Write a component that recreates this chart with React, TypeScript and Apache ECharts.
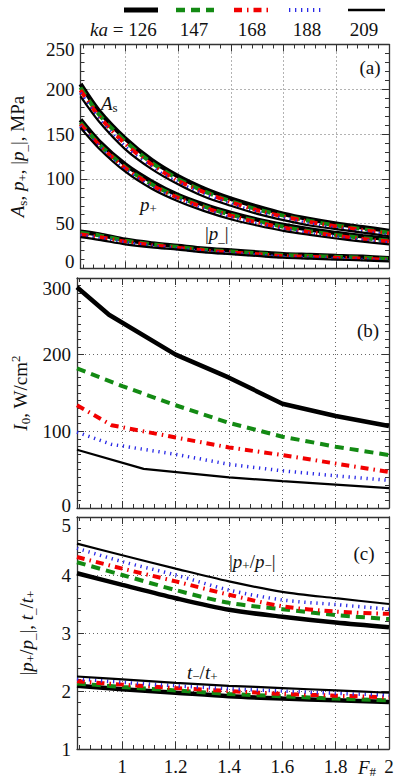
import React, { useEffect, useRef } from 'react';
import * as echarts from 'echarts';

const FONT = "'Liberation Serif', 'Times New Roman', serif";
const KA = ['126', '147', '168', '188', '209'];

// Panel (a): F# sample points and curves A_s, p+, |p-| (MPa) for each ka
const F_A = [0.83, 0.9, 1.0, 1.1, 1.2, 1.3, 1.4, 1.5, 1.6, 1.7, 1.8, 1.9, 2.0];
const AS_126 = [206, 176, 145, 121, 103, 89, 78, 69, 61, 55, 50, 46, 42];
const AS_147 = [202, 172, 142, 118, 100, 86, 75, 66, 59, 53, 48, 44, 40];
const AS_168 = [199, 170, 139, 116, 98, 85, 74, 65, 58, 52, 47, 43, 39];
const AS_188 = [196, 167, 136, 113, 96, 83, 72, 63, 56, 50, 45, 41, 37.5];
const AS_209 = [192, 164, 133, 111, 94, 80, 70, 61, 54, 48, 44, 40, 36];
const PP_126 = [166, 142, 116, 97, 82, 71, 62, 54.5, 48.5, 43.5, 39.5, 36, 33];
const PP_147 = [163, 139, 113, 94, 80, 69, 60, 53, 46.5, 41.5, 37.5, 34, 31];
const PP_168 = [161, 138, 112, 93, 79, 68, 59, 51.5, 45.5, 40.5, 36.5, 33, 30];
const PP_188 = [159, 136, 110, 91, 77, 66, 57, 50, 44, 39, 35, 31.5, 28.5];
const PP_209 = [157, 134, 108, 89, 75, 64, 55, 48, 42, 37.5, 33.5, 30, 27];
const PM_126 = [41, 38, 32, 28, 25, 22, 20, 18, 16, 15, 14, 13, 11.5];
const PM_147 = [40, 37, 31, 27, 24, 21, 19, 17, 15, 14, 13, 12, 10.5];
const PM_168 = [38, 35, 30, 26, 23, 20, 18, 16, 14, 13, 12, 11, 9.5];
const PM_188 = [37, 34, 29, 25, 22, 19, 17, 15, 13, 12, 11, 10, 9];
const PM_209 = [35, 32, 27, 23.5, 21, 18, 16, 14, 12, 11, 10, 9, 8];

// Panel (b): I0 (W/cm^2), each curve with its own vertices
const I0_126_F = [0.83, 0.95, 1.2, 1.4, 1.6, 1.8, 2.0];
const I0_126 = [288, 252, 200, 170, 136, 120, 107];
const I0_147_F = [0.83, 1.0, 1.2, 1.4, 1.6, 1.8, 2.0];
const I0_147 = [182, 159, 134, 111, 93, 80, 69];
const I0_168_F = [0.83, 0.96, 1.2, 1.4, 1.6, 1.8, 2.0];
const I0_168 = [134, 108, 92, 79, 69, 58, 47];
const I0_188_F = [0.83, 0.96, 1.2, 1.4, 1.6, 1.8, 2.0];
const I0_188 = [99, 83, 70, 57, 48.5, 42, 36];
const I0_209_F = [0.83, 1.08, 1.4, 1.6, 1.8, 2.0];
const I0_209 = [76, 51, 40, 35, 30.5, 26];

// Panel (c): |p+/p-| and t-/t+
const F_C = [0.83, 1.0, 1.2, 1.4, 1.6, 1.8, 2.0];
const R_126 = [4.03, 3.83, 3.6, 3.4, 3.28, 3.18, 3.1];
const R_147 = [4.22, 4.0, 3.74, 3.52, 3.41, 3.31, 3.24];
const R_168 = [4.31, 4.11, 3.89, 3.66, 3.46, 3.37, 3.33];
const R_188 = [4.46, 4.23, 4.0, 3.74, 3.57, 3.49, 3.41];
const R_209 = [4.54, 4.34, 4.11, 3.89, 3.71, 3.6, 3.5];
const T_126 = [2.09, 2.03, 1.97, 1.91, 1.87, 1.84, 1.81];
const T_147 = [2.13, 2.07, 2.01, 1.95, 1.91, 1.87, 1.84];
const T_168 = [2.17, 2.11, 2.05, 2.0, 1.95, 1.92, 1.89];
const T_188 = [2.21, 2.15, 2.09, 2.04, 2.0, 1.96, 1.93];
const T_209 = [2.25, 2.2, 2.14, 2.09, 2.05, 2.01, 1.97];

const STYLES: any[] = [
  { color: '#000000', width: 4.5, type: 'solid' },
  { color: '#138a13', width: 4, type: [9, 6] },
  { color: '#f20000', width: 4, type: [8, 5, 1.5, 5] },
  { color: '#2a2ae6', width: 3.5, type: [1.3, 4.7] },
  { color: '#000000', width: 2.2, type: 'solid' },
];

const zip = (xs: number[], ys: number[]) => xs.map((x, i) => [x, ys[i]]);

const AXIS_COLOR = '#333';
const GRIDS = [
  { top: 44.5, height: 224 },
  { top: 278, height: 230 },
  { top: 517, height: 232 },
];
const Y_CFG = [
  { min: 0, max: 250, interval: 50, minor: 5, gap: 52, maxPad: 10, minPad: 14, name: '{i|A}{sub|s}, {i|p}{sub|+}, |{i|p}{sub|_}|, MPa' },
  { min: 0, max: 300, interval: 100, minor: 10, gap: 44, maxPad: 20, minPad: 6, name: '{i|I}{sub|0}, W/cm{sup|2}' },
  { min: 1, max: 5, interval: 1, minor: 5, gap: 40, maxPad: 16, minPad: 0, name: '|{i|p}{sub|+}/{i|p}{sub|_}|, {i|t}{sub|_}/{i|t}{sub|+}' },
];

const richStyles = {
  i: { fontStyle: 'italic', fontSize: 19, fontFamily: FONT, color: '#111' },
  sub: { fontSize: 13, fontFamily: FONT, color: '#111', padding: [9, 0, 0, 0] },
  sup: { fontSize: 13, fontFamily: FONT, color: '#111', padding: [0, 0, 10, 0] },
};

function buildOption() {
  const lineStyle = { color: AXIS_COLOR, width: 1.3 };
  const xAxis: any[] = [];
  const yAxis: any[] = [];
  GRIDS.forEach((g, i) => {
    const baseX = {
      type: 'value', gridIndex: i, min: 0.83, max: 2, splitNumber: 6,
      axisLine: { show: true, onZero: false, lineStyle },
      axisTick: { show: true, inside: true, length: 7, lineStyle: { color: AXIS_COLOR, width: 1 } },
      minorTick: { show: true, splitNumber: 5, length: 4, lineStyle: { color: AXIS_COLOR, width: 1 } },
    };
    xAxis.push({
      ...baseX, position: 'bottom',
      splitLine: { show: true, lineStyle: { color: '#666', width: 1, type: [1, 3] } },
      axisLabel: { show: i === 2, showMinLabel: false, margin: 8, fontFamily: FONT, fontSize: 19, color: '#111' },
    });
    xAxis.push({ ...baseX, position: 'top', splitLine: { show: false }, axisLabel: { show: false } });
    const c = Y_CFG[i];
    const baseY = {
      type: 'value', gridIndex: i, min: c.min, max: c.max, interval: c.interval,
      axisLine: { show: true, onZero: false, lineStyle },
      axisTick: { show: true, inside: true, length: 7, lineStyle: { color: AXIS_COLOR, width: 1 } },
      minorTick: { show: true, splitNumber: c.minor, length: 4, lineStyle: { color: AXIS_COLOR, width: 1 } },
    };
    const lbl = { fontFamily: FONT, fontSize: 19, color: '#111' };
    yAxis.push({
      ...baseY, position: 'left',
      splitLine: { show: true, lineStyle: { color: '#666', width: 1, type: [1, 3] } },
      axisLabel: {
        show: true, margin: 6, ...lbl,
        formatter: (v: number) => (v === c.max ? '{dn|' + v + '}' : v === c.min ? '{up|' + v + '}' : String(v)),
        rich: {
          dn: { ...lbl, padding: [c.maxPad, 0, 0, 0] },
          up: { ...lbl, padding: [0, 0, c.minPad, 0] },
        },
      },
      name: c.name, nameLocation: 'middle', nameGap: c.gap, nameRotate: 90,
      nameTextStyle: { fontFamily: FONT, fontSize: 19, color: '#111', rich: richStyles },
    });
    yAxis.push({ ...baseY, position: 'right', splitLine: { show: false }, axisLabel: { show: false } });
  });

  const series: any[] = [];
  const addLine = (grid: number, k: number, data: number[][], smooth: boolean) => {
    const s = STYLES[k];
    series.push({
      type: 'line', name: 'ka=' + KA[k], xAxisIndex: grid * 2, yAxisIndex: grid * 2,
      data, smooth: smooth ? 0.3 : false, showSymbol: false, symbol: 'none',
      lineStyle: { color: s.color, width: s.width, type: s.type, cap: 'butt' },
      z: 2 + k,
    });
  };
  const AS = [AS_126, AS_147, AS_168, AS_188, AS_209];
  const PP = [PP_126, PP_147, PP_168, PP_188, PP_209];
  const PM = [PM_126, PM_147, PM_168, PM_188, PM_209];
  [AS, PP, PM].forEach((grp) => grp.forEach((ys, k) => addLine(0, k, zip(F_A, ys), true)));
  const I0F = [I0_126_F, I0_147_F, I0_168_F, I0_188_F, I0_209_F];
  const I0 = [I0_126, I0_147, I0_168, I0_188, I0_209];
  I0.forEach((ys, k) => addLine(1, k, zip(I0F[k], ys), false));
  const R = [R_126, R_147, R_168, R_188, R_209];
  const T = [T_126, T_147, T_168, T_188, T_209];
  [R, T].forEach((grp) => grp.forEach((ys, k) => addLine(2, k, zip(F_C, ys), true)));

  const txt = (x: number, y: number, text: string, align = 'left', size = 19, italic = false) => ({
    type: 'text', x, y, z: 100, zlevel: 1,
    style: {
      text, textAlign: align, textVerticalAlign: 'middle', fontFamily: FONT, fontSize: size,
      fontStyle: italic ? 'italic' : 'normal', fill: '#111', rich: richStyles,
    },
  });
  const legendX = [[124, 158], [176, 214], [234, 273], [289, 324], [348, 385]];
  const graphic: any[] = [];
  legendX.forEach(([a, b], k) => {
    const s = STYLES[k];
    graphic.push({
      type: 'line', shape: { x1: a, y1: 10, x2: b, y2: 10 },
      style: { stroke: s.color, lineWidth: s.width + 0.5, lineDash: Array.isArray(s.type) ? s.type : null },
    });
  });
  graphic.push(txt(90, 29, '{i|ka} = ' + KA[0]));
  graphic.push(txt(194, 29, KA[1], 'center'));
  graphic.push(txt(252, 29, KA[2], 'center'));
  graphic.push(txt(307, 29, KA[3], 'center'));
  graphic.push(txt(364, 29, KA[4], 'center'));
  graphic.push(txt(370, 67, '(a)', 'center'));
  graphic.push(txt(368, 330, '(b)', 'center'));
  graphic.push(txt(364, 553, '(c)', 'center'));
  graphic.push(txt(101, 103, '{i|A}{sub|s}'));
  graphic.push(txt(140, 204, '{i|p}{sub|+}'));
  graphic.push(txt(205, 233, '|{i|p}{sub|_}|'));
  graphic.push(txt(229, 561, '|{i|p}{sub|+}/{i|p}{sub|−}|'));
  graphic.push(txt(187, 672, '{i|t}{sub|−}/{i|t}{sub|+}'));
  graphic.push(txt(358, 767, '{i|F}{sub|#}'));

  return {
    animation: false,
    backgroundColor: '#fff',
    grid: GRIDS.map((g) => ({ left: 77, width: 312, top: g.top, height: g.height, containLabel: false })),
    xAxis, yAxis, series, graphic,
  };
}

export default function App() {
  const ref = useRef<HTMLDivElement>(null);
  useEffect(() => {
    if (!ref.current) return;
    const chart = echarts.init(ref.current, undefined, { renderer: 'svg' });
    chart.setOption(buildOption() as any);
    return () => chart.dispose();
  }, []);
  return <div ref={ref} style={{ position: 'fixed', left: 0, top: 0, width: 400, height: 781, background: '#fff' }} />;
}
